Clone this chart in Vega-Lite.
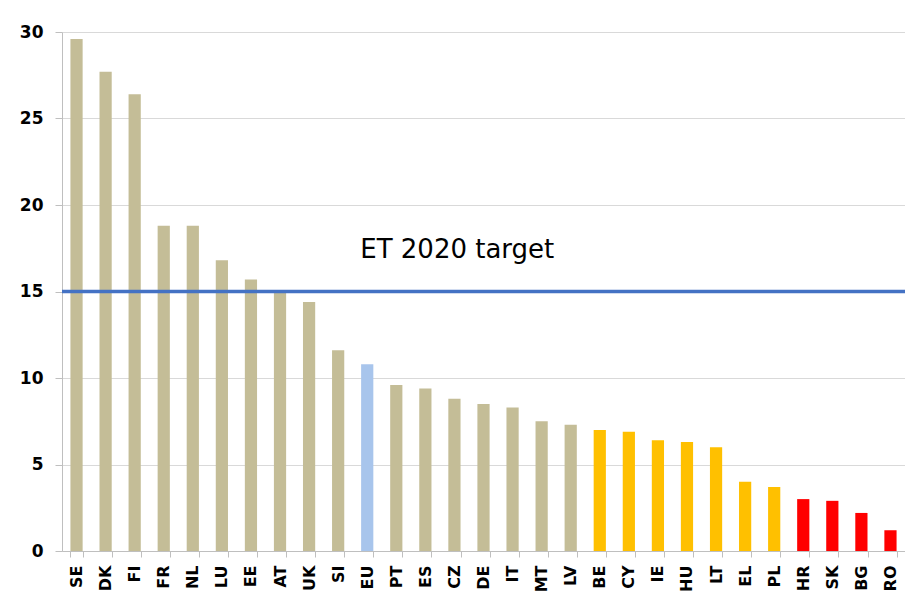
{
  "$schema": "https://vega.github.io/schema/vega-lite/v6.json",
  "autosize": "none",
  "width": 843,
  "height": 519,
  "padding": {"left": 62, "top": 32, "right": 0, "bottom": 48},
  "background": "white",
  "config": {"view": {"stroke": null}, "font": "DejaVu Sans"},
  "datasets": {
    "bars": [
      {"country": "SE", "value": 29.6, "group": "tan"},
      {"country": "DK", "value": 27.7, "group": "tan"},
      {"country": "FI", "value": 26.4, "group": "tan"},
      {"country": "FR", "value": 18.8, "group": "tan"},
      {"country": "NL", "value": 18.8, "group": "tan"},
      {"country": "LU", "value": 16.8, "group": "tan"},
      {"country": "EE", "value": 15.7, "group": "tan"},
      {"country": "AT", "value": 15.0, "group": "tan"},
      {"country": "UK", "value": 14.4, "group": "tan"},
      {"country": "SI", "value": 11.6, "group": "tan"},
      {"country": "EU", "value": 10.8, "group": "eu"},
      {"country": "PT", "value": 9.6, "group": "tan"},
      {"country": "ES", "value": 9.4, "group": "tan"},
      {"country": "CZ", "value": 8.8, "group": "tan"},
      {"country": "DE", "value": 8.5, "group": "tan"},
      {"country": "IT", "value": 8.3, "group": "tan"},
      {"country": "MT", "value": 7.5, "group": "tan"},
      {"country": "LV", "value": 7.3, "group": "tan"},
      {"country": "BE", "value": 7.0, "group": "gold"},
      {"country": "CY", "value": 6.9, "group": "gold"},
      {"country": "IE", "value": 6.4, "group": "gold"},
      {"country": "HU", "value": 6.3, "group": "gold"},
      {"country": "LT", "value": 6.0, "group": "gold"},
      {"country": "EL", "value": 4.0, "group": "gold"},
      {"country": "PL", "value": 3.7, "group": "gold"},
      {"country": "HR", "value": 3.0, "group": "red"},
      {"country": "SK", "value": 2.9, "group": "red"},
      {"country": "BG", "value": 2.2, "group": "red"},
      {"country": "RO", "value": 1.2, "group": "red"}
    ],
    "target": [{"target": 15, "label": "ET 2020 target", "country": "EU", "ypos": 17.4}]
  },
  "layer": [
    {
      "data": {"name": "bars"},
      "mark": {"type": "bar"},
      "encoding": {
        "x": {
          "field": "country", "type": "nominal", "sort": null,
          "scale": {"paddingInner": 0.58, "paddingOuter": 0.29},
          "axis": {
            "title": null, "labelAngle": -90, "labelFontWeight": "bold", "labelFontSize": 16,
            "labelColor": "black", "labelPadding": 8, "tickBand": "extent", "tickSize": 6,
            "tickColor": "#bfbfbf", "domainColor": "#bfbfbf", "labelBaseline": "middle", "labelAlign": "right"
          }
        },
        "y": {
          "field": "value", "type": "quantitative",
          "scale": {"domain": [0, 30], "nice": false},
          "axis": {
            "title": null, "values": [0, 5, 10, 15, 20, 25, 30], "labelFontWeight": "bold",
            "labelFontSize": 17, "labelColor": "black", "labelPadding": 12, "tickSize": 7,
            "tickColor": "#bfbfbf", "domainColor": "#bfbfbf", "gridColor": "#d9d9d9"
          }
        },
        "color": {
          "field": "group", "type": "nominal",
          "scale": {"domain": ["tan", "eu", "gold", "red"], "range": ["#c4bd97", "#a8c5ec", "#ffc000", "#ff0000"]},
          "legend": null
        }
      }
    },
    {
      "data": {"name": "target"},
      "mark": {"type": "rule", "color": "#4472c4", "strokeWidth": 3.5},
      "encoding": {"y": {"field": "target", "type": "quantitative"}}
    },
    {
      "data": {"name": "target"},
      "mark": {"type": "text", "align": "left", "baseline": "middle", "fontSize": 26, "color": "black", "dx": -7},
      "encoding": {
        "x": {"field": "country", "type": "nominal", "sort": null},
        "y": {"field": "ypos", "type": "quantitative"},
        "text": {"field": "label"}
      }
    }
  ]
}
